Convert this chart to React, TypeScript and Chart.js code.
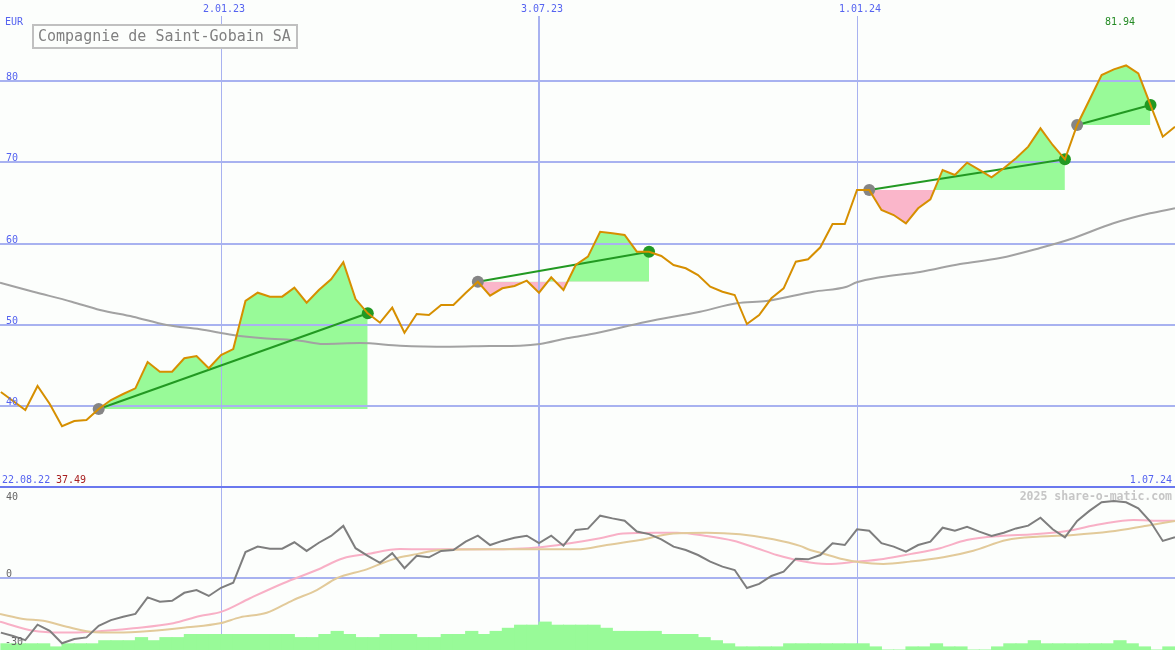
import React, { useEffect, useRef } from 'react';
import { Chart, registerables } from 'chart.js';

Chart.register(...registerables);

// ---------- data (weeks counted from 2.01.23) ----------
const FIRST_WEEK = -18;

// weekly closing prices, EUR
const price = [
  41.71, 40.6, 39.49, 42.45, 40.23, 37.49, 38.13, 38.26, 39.61, 40.72,
  41.46, 42.16, 45.4, 44.21, 44.21, 45.86, 46.14, 44.63, 46.26, 47.0,
  52.92, 53.94, 53.45, 53.45, 54.56, 52.71, 54.27, 55.59, 57.69, 53.16,
  51.4, 50.24, 52.09, 49.01, 51.32, 51.19, 52.42, 52.42, 53.9, 55.29,
  53.57, 54.48, 54.77, 55.42, 53.94, 55.84, 54.27, 57.35, 58.38, 61.45,
  61.26, 61.05, 58.99, 58.99, 58.46, 57.35, 56.95, 56.12, 54.68, 54.06,
  53.66, 50.08, 51.19, 53.25, 54.48, 57.76, 58.05, 59.53, 62.4, 62.4,
  66.59, 66.59, 64.13, 63.51, 62.49, 64.34, 65.45, 69.06, 68.44, 69.96,
  69.06, 68.16, 69.27, 70.5, 71.93, 74.19, 72.14, 70.37, 74.6, 77.68,
  80.76, 81.46, 81.94, 80.97, 77.06, 73.16, 74.39,
];

// long moving average (upper panel)
const maWeeks = [-18.07, -15.35, -12.21, -9.89, -7.2, -4.44, -1.72, 0.98, 3.46, 6.46, 8.34, 11.37, 14.64, 18.72, 22.0, 24.45, 26.08, 28.27, 30.17, 34.81, 39.17, 42.17, 44.62, 48.43, 51.16, 51.98, 53.88, 57.15, 60.43, 63.7, 66.97, 69.42, 72.96, 75.96, 78.0];
const maValues = [55.17, 54.06, 52.83, 51.81, 50.98, 49.96, 49.43, 48.73, 48.32, 48.03, 47.62, 47.74, 47.41, 47.29, 47.37, 47.41, 47.62, 48.32, 48.81, 50.37, 51.6, 52.63, 52.92, 54.06, 54.68, 55.22, 55.84, 56.49, 57.48, 58.21, 59.45, 60.52, 62.49, 63.72, 64.34];

// signals: start / end week
const signalStart = [-10, 21, 53, 70];
const signalEnd = [12, 35, 69, 76];

// lower panel: momentum (weekly)
const momentum = [
  -24.0, -25.5, -27.3, -20.5, -23.2, -28.7, -26.8, -26.1, -21.0, -18.5,
  -17.0, -15.8, -8.5, -10.4, -10.0, -6.5, -5.3, -7.9, -4.3, -2.1,
  11.4, 13.8, 12.9, 12.9, 15.7, 11.9, 15.5, 18.5, 22.9, 13.1,
  9.7, 6.7, 10.9, 4.3, 9.8, 9.1, 11.9, 12.3, 16.0, 18.6,
  14.5, 16.3, 17.7, 18.6, 15.3, 18.6, 14.2, 21.1, 21.7, 27.4,
  26.2, 25.2, 20.4, 19.3, 17.0, 13.8, 12.3, 10.1, 7.2, 5.0,
  3.5, -4.4, -2.6, 0.9, 2.8, 8.5, 8.2, 10.1, 15.3, 14.5,
  21.4, 20.8, 15.3, 13.8, 11.6, 14.5, 16.0, 22.1, 20.8, 22.5,
  20.4, 18.5, 19.9, 21.8, 23.0, 26.5, 21.4, 17.9, 25.1, 29.5,
  33.3, 33.8, 33.3, 30.6, 24.7, 16.3, 17.9,
];

// lower panel: smoothed lines
const pinkWeeks = [-18.07, -15.35, -13.16, -10.44, -7.17, -3.9, -1.72, 0.06, 2.37, 5.09, 7.83, 10.0, 11.91, 14.64, 16.54, 22.0, 26.08, 28.54, 30.99, 32.89, 35.63, 37.26, 39.71, 41.89, 43.8, 45.44, 47.34, 49.53, 51.98, 54.15, 56.34, 58.79, 60.97, 63.7, 66.42, 69.15, 71.87, 74.6, 76.23, 78.0];
const pinkValues = [-19.2, -23.2, -24.0, -23.6, -22.1, -19.9, -16.7, -14.8, -8.9, -2.3, 3.5, 8.7, 10.5, 12.7, 12.6, 12.6, 13.5, 15.3, 17.5, 19.6, 19.9, 19.9, 18.5, 16.4, 13.1, 10.1, 7.6, 6.2, 7.2, 8.4, 10.5, 13.1, 16.7, 18.5, 19.2, 20.7, 23.6, 25.5, 25.2, 25.2];
const tanWeeks = [-18.07, -16.17, -14.53, -12.62, -10.71, -8.53, -5.81, -2.8, -0.08, 1.55, 3.74, 5.91, 7.83, 9.46, 11.91, 13.27, 14.64, 16.0, 17.91, 22.0, 29.08, 31.54, 34.26, 36.98, 39.71, 42.44, 45.16, 47.34, 48.17, 48.99, 50.88, 52.24, 54.15, 56.34, 59.06, 61.51, 64.24, 66.97, 69.69, 72.69, 75.69, 78.0];
const tanValues = [-15.8, -18.0, -18.8, -21.4, -23.6, -24.0, -23.3, -21.7, -19.9, -17.3, -15.3, -9.7, -5.3, -0.1, 3.8, 6.7, 9.1, 10.5, 12.3, 12.6, 12.6, 14.5, 16.7, 19.6, 19.9, 19.2, 17.0, 14.1, 12.3, 11.1, 8.2, 6.9, 6.2, 7.2, 9.1, 12.0, 16.7, 18.2, 18.9, 20.4, 23.0, 25.1];

// volume (relative units), one bar per week starting FIRST_WEEK
const volume = [
  2, 2, 2, 2, 1, 2, 2, 2, 3, 3, 3, 4, 3, 4, 4, 5, 5, 5, 5, 5, 5, 5, 5, 5,
  4, 4, 5, 6, 5, 4, 4, 5, 5, 5, 4, 4, 5, 5, 6, 5, 6, 7, 8, 8, 9, 8, 8, 8, 8,
  7, 6, 6, 6, 6, 5, 5, 5, 4, 3, 2, 1, 1, 1, 1, 2, 2, 2, 2, 2, 2, 2, 1, 0, 0,
  1, 1, 2, 1, 1, 0, 0, 1, 2, 2, 3, 2, 2, 2, 2, 2, 2, 3, 2, 1, 0, 1,
];

// ticks and labels
const priceTicks = [40, 50, 60, 70, 80];
const lowerTicks = [40, 0, -30];
const lowerGrid = [0];
const dateWeeks = [0, 26, 52];
const dateLabels = ['2.01.23', '3.07.23', '1.01.24'];
const startLabel = '22.08.22';
const endLabel = '1.07.24';
const currencyLabel = 'EUR';
const titleText = 'Compagnie de Saint-Gobain SA';
const watermark = '2025 share-o-matic.com';

// ---------- layout / style constants ----------
const W = 1175;
const H = 650;
const X_MIN = -18.07;
const X_MAX = 78.0;
const Y_MAX = 90;
const Y_MIN = 90 - 650 / 8.117;
const UPPER_BOTTOM = 30;
const Y2_MIN = -72 / 2.275;
const Y2_MAX = 578 / 2.275;
const YV_MAX = 650 / 3.1;

const BG = '#fcfefc';
const GRID = '#a8b2f0';
const SEP = '#6a78ee';
const AXIS_TXT = '#5563f0';
const GREEN_FILL = '#98fa98';
const PINK_FILL = '#fab6ca';
const FONT = "'DejaVu Sans Mono', monospace";

const decorPlugin = {
  id: 'decor',
  beforeDraw(chart: any) {
    const { ctx } = chart;
    ctx.save();
    ctx.fillStyle = BG;
    ctx.fillRect(0, 0, chart.width, chart.height);
    ctx.restore();
  },
  beforeDatasetsDraw(chart: any) {
    const { ctx } = chart;
    const xs = chart.scales.x;
    const ys = chart.scales.y;
    const y2 = chart.scales.y2;
    ctx.save();
    ctx.strokeStyle = GRID;
    ctx.lineWidth = 2;
    priceTicks.forEach((v) => {
      const y = Math.round(ys.getPixelForValue(v));
      ctx.beginPath();
      ctx.moveTo(0, y);
      ctx.lineTo(chart.width, y);
      ctx.stroke();
    });
    lowerGrid.forEach((v) => {
      const y = Math.round(y2.getPixelForValue(v));
      ctx.beginPath();
      ctx.moveTo(0, y);
      ctx.lineTo(chart.width, y);
      ctx.stroke();
    });
    dateWeeks.forEach((w, i) => {
      const px = xs.getPixelForValue(w);
      const lw = i === 1 ? 2 : 1;
      const x = lw === 1 ? Math.round(px) + 0.5 : Math.round(px);
      ctx.lineWidth = lw;
      ctx.beginPath();
      ctx.moveTo(x, 16);
      ctx.lineTo(x, chart.height);
      ctx.stroke();
    });
    ctx.strokeStyle = SEP;
    ctx.lineWidth = 2;
    const sy = Math.round(ys.getPixelForValue(UPPER_BOTTOM));
    ctx.beginPath();
    ctx.moveTo(0, sy);
    ctx.lineTo(chart.width, sy);
    ctx.stroke();
    ctx.restore();
  },
  afterDraw(chart: any) {
    const { ctx } = chart;
    const xs = chart.scales.x;
    const ys = chart.scales.y;
    const y2 = chart.scales.y2;
    const sepY = Math.round(ys.getPixelForValue(UPPER_BOTTOM));
    ctx.save();
    ctx.textBaseline = 'alphabetic';
    ctx.font = `10px ${FONT}`;
    ctx.fillStyle = AXIS_TXT;
    ctx.textAlign = 'left';
    ctx.fillText(currencyLabel, 5, 25);
    priceTicks.forEach((v) => {
      ctx.fillText(String(v), 6, Math.round(ys.getPixelForValue(v)) - 1.5);
    });
    ctx.textAlign = 'center';
    dateWeeks.forEach((w, i) => {
      ctx.fillText(dateLabels[i], xs.getPixelForValue(w) + 3, 12);
    });
    ctx.textAlign = 'left';
    ctx.fillText(startLabel, 2, sepY - 4);
    ctx.textAlign = 'right';
    ctx.fillText(endLabel, chart.width - 3, sepY - 4);
    const minV = Math.min(...price);
    const maxV = Math.max(...price);
    const maxIdx = price.indexOf(maxV);
    ctx.textAlign = 'left';
    ctx.fillStyle = '#a82020';
    ctx.fillText(minV.toFixed(2), 56, sepY - 4);
    ctx.textAlign = 'center';
    ctx.fillStyle = '#238a23';
    ctx.fillText(maxV.toFixed(2), xs.getPixelForValue(FIRST_WEEK + maxIdx) - 6, 25);
    ctx.textAlign = 'left';
    ctx.fillStyle = '#666666';
    lowerTicks.forEach((v) => {
      const py = Math.round(y2.getPixelForValue(v));
      const base = Math.max(py - 1, sepY + 13);
      ctx.fillText(String(v), v < 0 ? 5 : 6, base);
    });
    ctx.font = `bold 11.5px ${FONT}`;
    ctx.fillStyle = '#c6c6c6';
    ctx.textAlign = 'right';
    ctx.fillText(watermark, chart.width - 3, sepY + 13);
    ctx.fillStyle = BG;
    ctx.fillRect(32, 24, 267, 25);
    ctx.strokeStyle = '#c0c0c0';
    ctx.lineWidth = 2;
    ctx.strokeRect(33, 25, 264, 23);
    ctx.font = `15px ${FONT}`;
    ctx.fillStyle = '#808080';
    ctx.textAlign = 'left';
    ctx.fillText(titleText, 38, 41);
    ctx.restore();
  },
};

export default function App() {
  const ref = useRef<HTMLCanvasElement | null>(null);

  useEffect(() => {
    const canvas = ref.current;
    if (!canvas) return;
    const wi = (w: number) => w - FIRST_WEEK;
    const pricePts = price.map((v, i) => ({ x: FIRST_WEEK + i, y: v }));

    const fillSets = signalStart.map((s, k) => ({
      type: 'line',
      data: pricePts.slice(wi(s), wi(signalEnd[k]) + 1),
      borderColor: 'transparent',
      borderWidth: 0,
      pointRadius: 0,
      fill: { target: { value: price[wi(s)] }, above: GREEN_FILL, below: PINK_FILL },
      yAxisID: 'y',
      order: 10,
    }));

    const trendSets = signalStart.map((s, k) => ({
      type: 'line',
      data: [pricePts[wi(s)], pricePts[wi(signalEnd[k])]],
      borderColor: '#229922',
      borderWidth: 2,
      pointRadius: 6,
      pointBorderWidth: 0,
      pointBackgroundColor: ['#858585', '#229922'],
      fill: false,
      yAxisID: 'y',
      order: 3,
    }));

    const datasets: any[] = [
      ...fillSets,
      {
        type: 'bar',
        data: volume.map((v, i) => ({ x: FIRST_WEEK + i + 0.5, y: v })),
        backgroundColor: GREEN_FILL,
        borderWidth: 0,
        barPercentage: 1,
        categoryPercentage: 1,
        inflateAmount: 0.5,
        yAxisID: 'yv',
        order: 9,
      },
      {
        type: 'line',
        data: maWeeks.map((w, i) => ({ x: w, y: maValues[i] })),
        borderColor: '#a2a2a2',
        borderWidth: 2,
        pointRadius: 0,
        cubicInterpolationMode: 'monotone',
        fill: false,
        yAxisID: 'y',
        order: 8,
      },
      {
        type: 'line',
        data: pinkWeeks.map((w, i) => ({ x: w, y: pinkValues[i] })),
        borderColor: '#f8b0c6',
        borderWidth: 2,
        pointRadius: 0,
        cubicInterpolationMode: 'monotone',
        fill: false,
        yAxisID: 'y2',
        order: 7,
      },
      {
        type: 'line',
        data: tanWeeks.map((w, i) => ({ x: w, y: tanValues[i] })),
        borderColor: '#e2ca9a',
        borderWidth: 2,
        pointRadius: 0,
        cubicInterpolationMode: 'monotone',
        fill: false,
        yAxisID: 'y2',
        order: 6,
      },
      {
        type: 'line',
        data: momentum.map((v, i) => ({ x: FIRST_WEEK + i, y: v })),
        borderColor: '#7e7e7e',
        borderWidth: 2,
        pointRadius: 0,
        fill: false,
        yAxisID: 'y2',
        order: 5,
      },
      ...trendSets,
      {
        type: 'line',
        data: pricePts,
        borderColor: '#d68f00',
        borderWidth: 2,
        pointRadius: 0,
        fill: false,
        yAxisID: 'y',
        order: 1,
      },
    ];

    const chart = new Chart(canvas, {
      type: 'line',
      data: { datasets },
      options: {
        responsive: false,
        animation: false,
        events: [],
        layout: { padding: 0, autoPadding: false },
        elements: { line: { tension: 0 }, point: { radius: 0 } },
        plugins: {
          legend: { display: false },
          tooltip: { enabled: false },
          filler: { drawTime: 'beforeDatasetsDraw', propagate: false },
        },
        scales: {
          x: { type: 'linear', min: X_MIN, max: X_MAX, display: false, offset: false, grid: { offset: false } },
          y: { type: 'linear', min: Y_MIN, max: Y_MAX, display: false },
          y2: { type: 'linear', min: Y2_MIN, max: Y2_MAX, display: false },
          yv: { type: 'linear', min: 0, max: YV_MAX, display: false, beginAtZero: true },
        },
      } as any,
      plugins: [decorPlugin],
    } as any);

    return () => chart.destroy();
  }, []);

  return (
    <div style={{ position: 'fixed', left: 0, top: 0, width: W, height: H, background: BG }}>
      <canvas ref={ref} width={W} height={H} style={{ display: 'block', width: W, height: H }} />
    </div>
  );
}
